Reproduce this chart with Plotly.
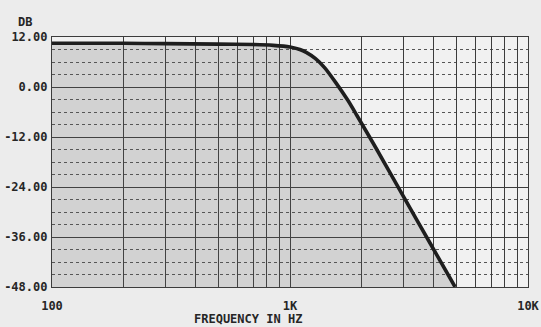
import plotly.graph_objects as go

# Filter response read at a set of frequencies
freq_hz = [100, 200, 300, 500, 700, 850, 1000, 1100, 1170, 1280, 1400, 1560, 1750, 1900, 2300, 3000, 3800, 4940]
gain_db = [10.5, 10.5, 10.4, 10.3, 10.2, 10.0, 9.6, 9.0, 8.3, 6.8, 4.6, 1.0, -3.2, -6.6, -14.7, -26.3, -36.6, -48.0]

# Axis ticks
x_grid = [100, 200, 300, 400, 500, 600, 700, 800, 900,
          1000, 2000, 3000, 4000, 5000, 6000, 7000, 8000, 9000, 10000]
x_labels = {100: "100", 1000: "1K", 10000: "10K"}
y_ticks = [12, 0, -12, -24, -36, -48]

FONT = "DejaVu Sans Mono, Liberation Mono, monospace"
INK = "#262626"
TXT = dict(family=FONT, size=12, color=INK, weight="bold")

fig = go.Figure()

# baseline for the shaded area under the curve
fig.add_trace(go.Scatter(
    x=[freq_hz[0], freq_hz[-1]], y=[y_ticks[-1], y_ticks[-1]],
    mode="lines", line=dict(width=0), hoverinfo="skip", showlegend=False,
))
fig.add_trace(go.Scatter(
    x=freq_hz, y=gain_db, mode="lines",
    line=dict(color="#1e1e1e", width=3.6, shape="spline", smoothing=0.6),
    fill="tonexty", fillcolor="rgba(90,90,90,0.2)",
    showlegend=False,
))

fig.update_layout(
    width=541, height=327,
    margin=dict(l=52, r=13, t=37, b=40),
    paper_bgcolor="#ececec",
    plot_bgcolor="#f1f1f1",
    font=TXT,
    xaxis=dict(
        type="log", range=[2, 4], automargin=False,
        tickvals=x_grid,
        ticktext=[x_labels.get(v, "") for v in x_grid],
        ticks="", ticklabelstandoff=7,
        showgrid=True, gridcolor="#3c3c3c", gridwidth=1.2,
        showline=True, mirror=True, linecolor="#3c3c3c", linewidth=1.2,
        tickfont=TXT,
        zeroline=False,
    ),
    yaxis=dict(
        range=[-48, 12], automargin=False,
        tickvals=y_ticks,
        ticktext=[f"{v:.2f}" for v in y_ticks],
        ticks="", ticklabelstandoff=1,
        showgrid=True, gridcolor="#3c3c3c", gridwidth=1.2,
        showline=True, mirror=True, linecolor="#3c3c3c", linewidth=1.2,
        zeroline=False,
        minor=dict(dtick=3, showgrid=True, griddash="dot",
                   gridcolor="#555555", gridwidth=1),
        tickfont=TXT,
    ),
    annotations=[
        dict(text="DB", xref="paper", yref="paper", x=-0.075, y=1.0,
             xanchor="left", yanchor="middle", yshift=15, showarrow=False,
             font=TXT),
        dict(text="FREQUENCY IN HZ", xref="paper", yref="paper", x=0.412, y=0,
             xanchor="center", yanchor="middle", yshift=-32, showarrow=False,
             font=TXT),
    ],
)

fig.write_html("out.html")
